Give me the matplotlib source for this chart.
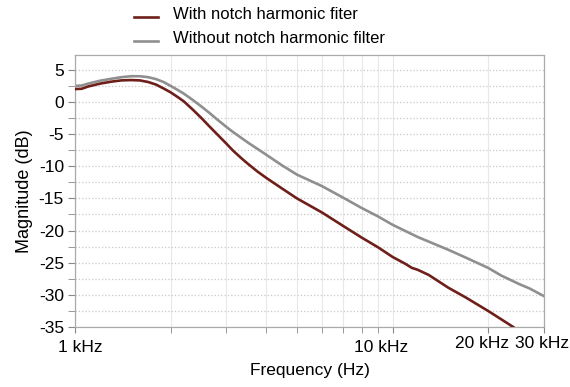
import matplotlib
matplotlib.use("Agg")
import matplotlib.pyplot as plt
from matplotlib.ticker import FixedLocator, NullFormatter, FixedFormatter
import matplotlib.transforms as mtransforms

plt.rcParams['font.family'] = ['Liberation Sans', 'DejaVu Sans']
plt.rcParams['axes.unicode_minus'] = False

freq_with = [1000, 1050, 1100, 1200, 1300, 1400, 1500, 1600, 1700, 1800, 1900, 2000, 2100,
             2200, 2350, 2500, 2650, 2800, 3000, 3150, 3350, 3500, 3750, 4000, 4500, 5000,
             6000, 7000, 8000, 9000, 10000, 11000, 11500, 12000, 13000, 15000, 17000,
             20000, 22000, 24000]
mag_with = [2.0, 2.05, 2.4, 2.85, 3.15, 3.35, 3.4, 3.35, 3.1, 2.7, 2.1, 1.5, 0.8,
            0.1, -1.2, -2.5, -3.8, -5.0, -6.5, -7.6, -8.8, -9.6, -10.8, -11.8, -13.5, -15.0,
            -17.2, -19.3, -21.1, -22.6, -24.1, -25.2, -25.8, -26.1, -26.9, -28.9, -30.4,
            -32.5, -33.8, -35.0]

freq_without = [1000, 1050, 1100, 1200, 1300, 1400, 1500, 1600, 1700, 1800, 1900, 2000, 2100,
                2200, 2350, 2500, 2650, 2800, 3000, 3150, 3500, 4000, 4500, 5000, 6000, 7000,
                8000, 9000, 10000, 12000, 15000, 17000, 20000, 22000, 25000, 27000, 30000]
mag_without = [2.5, 2.55, 2.85, 3.3, 3.6, 3.85, 4.0, 4.0, 3.85, 3.55, 3.1, 2.5, 1.9,
               1.3, 0.3, -0.7, -1.7, -2.7, -3.9, -4.7, -6.3, -8.2, -9.9, -11.3, -13.1, -14.9,
               -16.5, -17.8, -19.1, -21.0, -23.0, -24.2, -25.8, -27.0, -28.3, -29.0, -30.2]

x_tick_values = [1000, 10000, 20000, 30000]
x_tick_labels = ['1 kHz', '10 kHz', '20 kHz', '30 kHz']
y_tick_values = [5, 0, -5, -10, -15, -20, -25, -30, -35]

label_with = 'With notch harmonic fiter'
label_without = 'Without notch harmonic filter'

fig = plt.figure(figsize=(5.7, 3.87), dpi=100)
ax = fig.add_axes([75/570, 1-327/387, (544-75)/570, (327-55)/387])

l1, = ax.plot(freq_with, mag_with, color='#6e1f1a', lw=1.9, label=label_with, zorder=3)
l2, = ax.plot(freq_without, mag_without, color='#8f8f8f', lw=1.9, label=label_without, zorder=2)

ax.set_xscale('log')
ax.set_xlim(1000, 30000)
ax.set_ylim(-35, 7.3)

ax.xaxis.set_major_locator(FixedLocator(x_tick_values))
ax.xaxis.set_major_formatter(FixedFormatter(x_tick_labels))
ax.xaxis.set_minor_locator(FixedLocator([2000, 3000, 4000, 5000, 6000, 7000, 8000, 9000, 20000]))
ax.xaxis.set_minor_formatter(NullFormatter())
ax.yaxis.set_major_locator(FixedLocator(y_tick_values))
ax.yaxis.set_minor_locator(FixedLocator([2.5, -2.5, -7.5, -12.5, -17.5, -22.5, -27.5, -32.5]))

ax.tick_params(axis='both', which='both', colors='#888888', labelcolor='black', labelsize=12.5)
ax.tick_params(axis='y', which='major', length=5, pad=3)
ax.tick_params(axis='y', which='minor', length=5)
ax.tick_params(axis='x', which='both', length=4, pad=5)

ax.grid(True, axis='y', which='both', color='#c8c8c8', linestyle=':', lw=0.9)
ax.grid(True, axis='x', which='both', color='#e8e8e8', linestyle='-', lw=0.8)
for s in ax.spines.values():
    s.set_color('#aaaaaa')
    s.set_linewidth(0.9)

fig.canvas.draw()
label_offsets_px = [(5, 0), (-11, 0), (-6, 3), (-2, 3)]
for lab, (dx, dy) in zip(ax.get_xticklabels(), label_offsets_px):
    lab.set_transform(lab.get_transform() +
                      mtransforms.ScaledTranslation(dx/100, dy/100, fig.dpi_scale_trans))

ax.set_xlabel('Frequency (Hz)', fontsize=12.5, labelpad=6)
ax.set_ylabel('Magnitude (dB)', fontsize=13, labelpad=4)

leg = fig.legend(handles=[l1, l2], loc='upper left', bbox_to_anchor=(119/570, 1.0 + 4/387),
                 frameon=False, fontsize=12, handlelength=1.45, handletextpad=0.9,
                 labelspacing=0.55)
for t in leg.get_texts():
    t.set_transform(t.get_transform() +
                    mtransforms.ScaledTranslation(0, 4/100, fig.dpi_scale_trans))

fig.savefig('out.png', dpi=100)
